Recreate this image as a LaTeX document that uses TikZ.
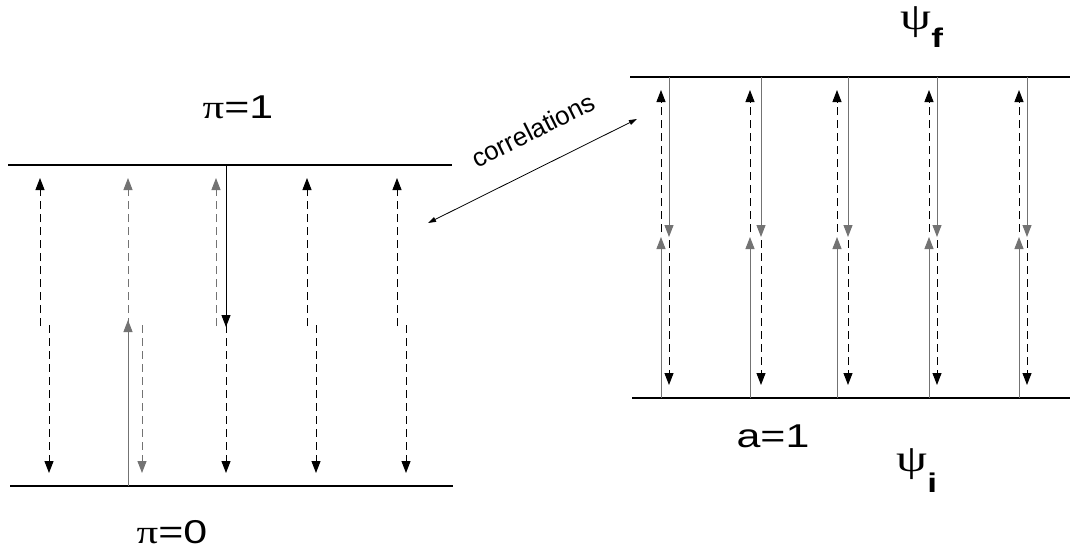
\documentclass[tikz,border=0pt]{standalone}
\usepackage{fontspec}
\usepackage{graphicx}
\setmainfont{Liberation Sans}
\newfontfamily\greekfont{Liberation Serif}
\usetikzlibrary{arrows.meta}
\definecolor{linegray}{RGB}{115,115,115}
\newcommand{\stretchlbl}[1]{\scalebox{1.3}[1]{#1}}

\begin{document}
\begin{tikzpicture}[x=1pt,y=-1pt, line width=1pt,
    level/.style={line width=1.4pt},
    flow/.style={-{Triangle[length=12pt,width=9pt]}},
    ghost/.style={flow, dash pattern=on 8pt off 5pt},
    lbl/.style={font=\fontsize{33}{33}\selectfont, inner sep=0pt}]
  \useasboundingbox (0,0) rectangle (1072,555);
  % levels
  \coordinate (lTopW) at (8,165);   \coordinate (lTopE) at (452,165);
  \coordinate (lBotW) at (10,486);  \coordinate (lBotE) at (453,486);
  \coordinate (rTopW) at (630,77);  \coordinate (rTopE) at (1070,77);
  \coordinate (rBotW) at (632,398); \coordinate (rBotE) at (1070,398);
  \foreach \a/\b in {lTopW/lTopE,lBotW/lBotE,rTopW/rTopE,rBotW/rBotE}
    \draw[level] (\a) -- (\b);
  % left panel: dashed pairs
  \foreach \i/\xu/\xd/\cu/\cd in {1/40/49/black/black,2/128/142/linegray/linegray,3/216/226/linegray/black,4/307/316/black/black,5/397/406/black/black} {
    \coordinate (lMidU\i) at (\xu,326);
    \coordinate (lTipU\i) at (\xu,178);
    \coordinate (lMidD\i) at (\xd,325);
    \coordinate (lTipD\i) at (\xd,473);
    \draw[ghost, \cu] (lMidU\i) -- (lTipU\i);
    \draw[ghost, \cd] (lMidD\i) -- (lTipD\i);
  }
  % left panel: solid ones
  \coordinate (lBase2) at (128,486); \coordinate (lStop2) at (128,320);
  \coordinate (lRoof3) at (226,165); \coordinate (lStop3) at (226,327);
  \draw[flow, linegray] (lBase2) -- (lStop2);
  \draw[flow] (lRoof3) -- (lStop3);
  % right panel
  \foreach \i/\xu/\xd in {1/661/669,2/750/761,3/837/848,4/929/937,5/1019/1027} {
    \coordinate (rRoof\i) at (\xd,77);
    \coordinate (rStopD\i) at (\xd,237);
    \coordinate (rMidU\i) at (\xu,232);
    \coordinate (rTipU\i) at (\xu,90);
    \coordinate (rBase\i) at (\xu,398);
    \coordinate (rStopU\i) at (\xu,237);
    \coordinate (rMidD\i) at (\xd,240);
    \coordinate (rTipD\i) at (\xd,385);
    \draw[flow, linegray] (rRoof\i) -- (rStopD\i);
    \draw[ghost] (rMidU\i) -- (rTipU\i);
    \draw[flow, linegray] (rBase\i) -- (rStopU\i);
    \draw[ghost] (rMidD\i) -- (rTipD\i);
  }
  % correlations
  \coordinate (corrL) at (428,223); \coordinate (corrR) at (637,119);
  \draw[{Triangle[length=8pt,width=5pt]}-{Triangle[length=8pt,width=5pt]}, line width=0.8pt] (corrL) -- (corrR);
  \node[rotate=26.5, font=\fontsize{26}{26}\selectfont, inner sep=0pt] (corr) at (533,130) {correlations};
  % labels
  \node[lbl] (piOne) at (238,107) {\stretchlbl{{\greekfont π}=1}};
  \node[lbl] (piZero) at (172,532) {\stretchlbl{{\greekfont π}=0}};
  \node[lbl] (aOne) at (773,436) {\stretchlbl{a=1}};
  \node[lbl, anchor=base west] (psiF) at (900,29) {\stretchlbl{{\greekfont\fontsize{38}{38}\selectfont ψ}\raisebox{-18pt}{\fontsize{27}{27}\selectfont\bfseries f}}};
  \node[lbl, anchor=base west] (psiI) at (896,471) {\stretchlbl{{\greekfont\fontsize{38}{38}\selectfont ψ}\raisebox{-21pt}{\fontsize{27}{27}\selectfont\bfseries i}}};
\end{tikzpicture}
\end{document}
